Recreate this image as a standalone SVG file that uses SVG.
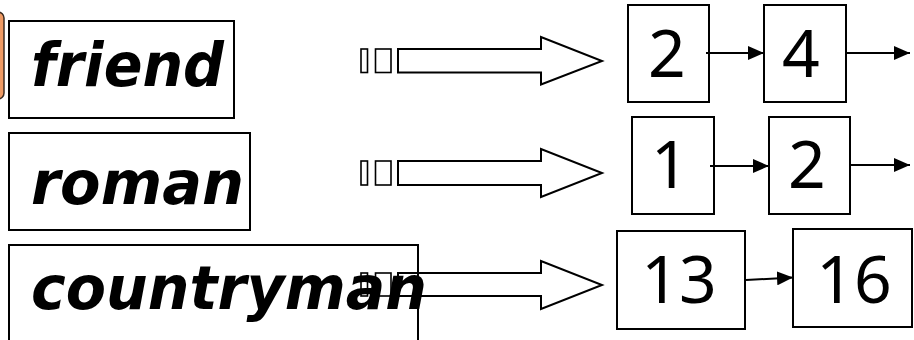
<svg xmlns="http://www.w3.org/2000/svg" width="914" height="340" viewBox="0 0 914 340">
<defs>
<style>
.box{fill:none;stroke:#000;stroke-width:2}
.term{font-family:"DejaVu Sans",Verdana,sans-serif;font-weight:bold;font-style:italic;font-size:60px;fill:#000}
.num{font-family:"Noto Sans","DejaVu Sans",sans-serif;font-size:66px;fill:#000;text-anchor:middle}
.blk{fill:none;stroke:#000;stroke-width:2;stroke-linejoin:miter}
.stub{fill:none;stroke:#000;stroke-width:1.6}
.link{fill:none;stroke:#000;stroke-width:2}
</style>
<marker id="ah" viewBox="0 0 16 14" refX="16" refY="7" markerWidth="16" markerHeight="14" markerUnits="userSpaceOnUse" orient="auto">
<path d="M0,0 L16,7 L0,14 Z" fill="#000"/>
</marker>
</defs>
<rect width="914" height="340" fill="#fff"/>

<g id="highlight">
<rect x="-10" y="12" width="14" height="87" rx="6" ry="6" fill="#ee9a64" stroke="#3a2a20" stroke-width="1.5"/>
</g>

<g id="term-friend">
<rect class="box" x="9" y="21" width="225" height="97"/>
<text class="term" x="31" y="86" textLength="193" lengthAdjust="spacingAndGlyphs">friend</text>
</g>
<g id="term-roman">
<rect class="box" x="9" y="133" width="241" height="97"/>
<text class="term" x="31" y="204" textLength="213" lengthAdjust="spacingAndGlyphs">roman</text>
</g>
<g id="term-countryman">
<rect class="box" x="9" y="245" width="409" height="110"/>
<text class="term" x="31" y="309" textLength="396" lengthAdjust="spacingAndGlyphs">countryman</text>
</g>

<g id="p-friend-2"><rect class="box" x="628" y="5" width="81" height="97"/><text class="num" x="667" y="77">2</text></g>
<g id="p-friend-4"><rect class="box" x="764" y="5" width="82" height="97"/><text class="num" x="801" y="77">4</text></g>
<g id="p-roman-1"><rect class="box" x="632" y="117" width="82" height="97"/><text class="num" x="670" y="188">1</text></g>
<g id="p-roman-2"><rect class="box" x="769" y="117" width="81" height="97"/><text class="num" x="807" y="188">2</text></g>
<g id="p-country-13"><rect class="box" x="617" y="231" width="128" height="98"/><text class="num" x="679" y="303">13</text></g>
<g id="p-country-16"><rect class="box" x="793" y="229" width="119" height="98"/><text class="num" x="854" y="303">16</text></g>

<g id="connectors">
<rect class="stub" x="361" y="49" width="6.5" height="23.5"/>
<rect class="stub" x="375.5" y="49" width="15.5" height="23.5"/>
<path class="blk" d="M398,49 H541 V37 L602,61 L541,84.5 V72.5 H398 Z"/>

<rect class="stub" x="361" y="161" width="6.5" height="24"/>
<rect class="stub" x="375.5" y="161" width="15.5" height="24"/>
<path class="blk" d="M398,161 H541 V149 L602,173 L541,197 V185 H398 Z"/>

<rect class="stub" x="361" y="273" width="6.5" height="23"/>
<rect class="stub" x="375.5" y="273" width="15.5" height="23"/>
<path class="blk" d="M398,273 H541 V261 L602,285 L541,309 V296 H398 Z"/>

<line class="link" x1="706" y1="53" x2="764" y2="53" marker-end="url(#ah)"/>
<line class="link" x1="846" y1="53" x2="910" y2="53" marker-end="url(#ah)"/>
<line class="link" x1="710" y1="166" x2="769" y2="166" marker-end="url(#ah)"/>
<line class="link" x1="850" y1="165" x2="910" y2="165" marker-end="url(#ah)"/>
<line class="link" x1="746" y1="280" x2="793" y2="277.5" marker-end="url(#ah)"/>
</g>
</svg>
